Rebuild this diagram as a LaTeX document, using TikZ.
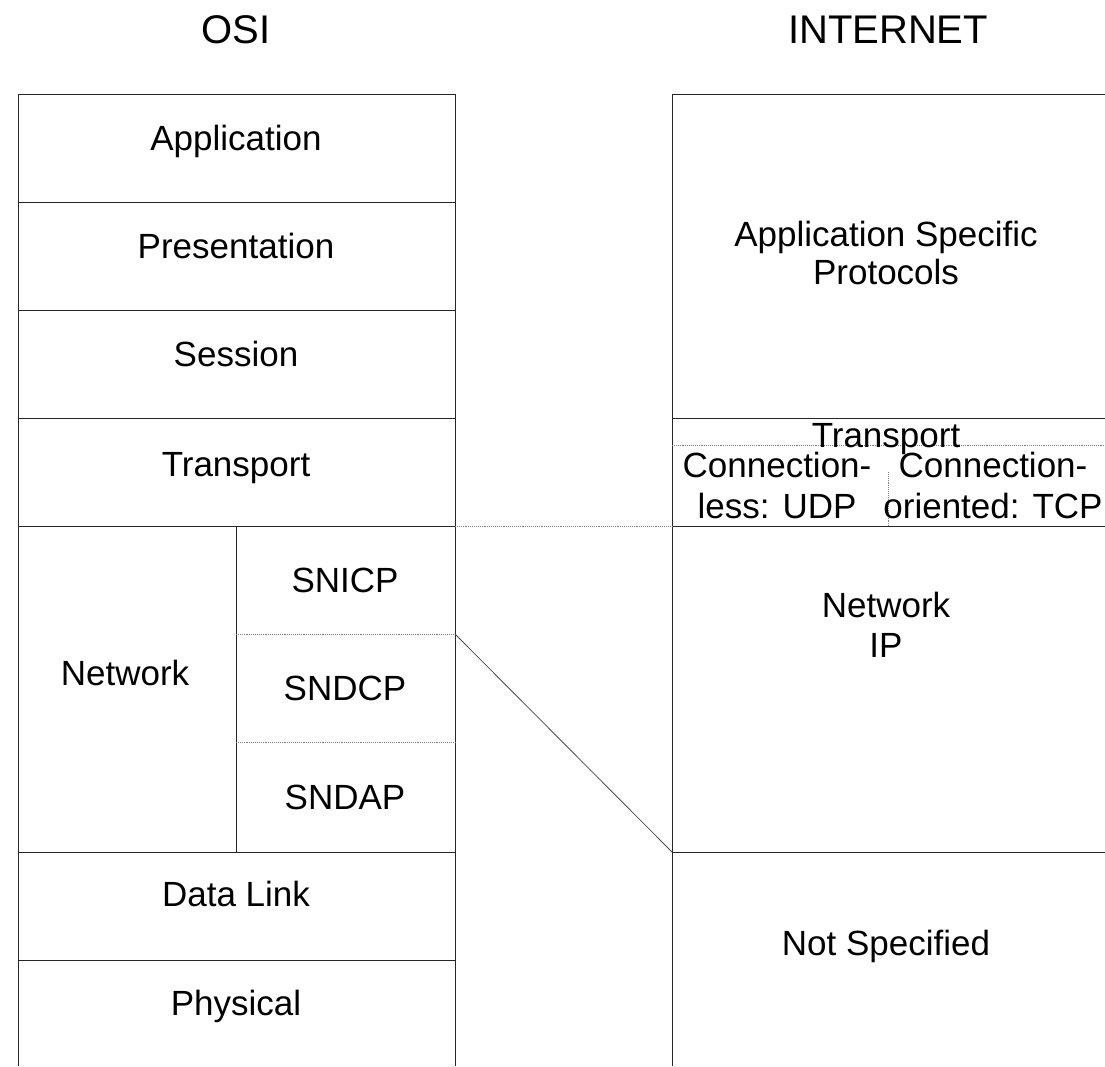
\documentclass[tikz,border=0pt]{standalone}
\usepackage{fontspec}
\setmainfont{Liberation Sans}
\begin{document}
\begin{tikzpicture}[x=1pt,y=-1pt,
  frame/.style={draw=black!85,line width=1pt},
  sub/.style={draw=black!50,line width=0.9pt,densely dotted},
  link/.style={draw=black!70,line width=0.8pt},
  lbl/.style={font=\fontsize{35}{40}\selectfont,anchor=base,inner sep=0pt,align=center},
  ttl/.style={font=\fontsize{40}{44}\selectfont,anchor=base,inner sep=0pt}]
\useasboundingbox (0,0) rectangle (1105,1066);
% titles
\node[ttl] (osi) at (236,43) {OSI};
\node[ttl] (inet) at (888,43) {INTERNET};
% OSI stack
\draw[frame] (18,1066) -- (18,94) -- (455,94) -- (455,1066);
\foreach \y in {202,310,418,526,852,960} \draw[frame] (18,\y) -- (455,\y);
\draw[frame] (236,526) -- (236,852);
\draw[sub] (236,634) -- (455,634);
\draw[sub] (236,742) -- (455,742);
\node[lbl] (app) at (236,150) {Application};
\node[lbl] (pres) at (236,258) {Presentation};
\node[lbl] (sess) at (236,366) {Session};
\node[lbl] (trans) at (236,476) {Transport};
\node[lbl] (net) at (125,685) {Network};
\node[lbl] (snicp) at (345,592) {SNICP};
\node[lbl] (sndcp) at (345,700) {SNDCP};
\node[lbl] (sndap) at (345,809) {SNDAP};
\node[lbl] (dl) at (236,906) {Data Link};
\node[lbl] (phy) at (236,1015) {Physical};
% Internet stack
\draw[frame] (672,1066) -- (672,94) -- (1105,94);
\foreach \y in {418,526,852} \draw[frame] (672,\y) -- (1105,\y);
\draw[sub] (672,445) -- (1105,445);
\draw[sub] (888,472) -- (888,526);
\node[lbl,font=\fontsize{35}{38}\selectfont] (asp) at (886,284) {Application Specific\\Protocols};
\node[lbl] (itrans) at (886,447) {Transport};
\node[lbl,font=\fontsize{35}{41}\selectfont] (udp) at (777,518) {Connection-\\less: UDP};
\node[lbl,font=\fontsize{35}{41}\selectfont] (tcp) at (993,518) {Connection-\\oriented: TCP};
\node[lbl] (ip) at (886,657) {Network\\IP};
\node[lbl] (ns) at (886,955) {Not Specified};
% correspondence lines
\coordinate (oT) at (455,526);
\coordinate (iT) at (672,526);
\coordinate (oN) at (455,634);
\coordinate (iN) at (672,852);
\draw[sub] (oT) -- (iT);
\draw[link] (oN) -- (iN);
\end{tikzpicture}
\end{document}
